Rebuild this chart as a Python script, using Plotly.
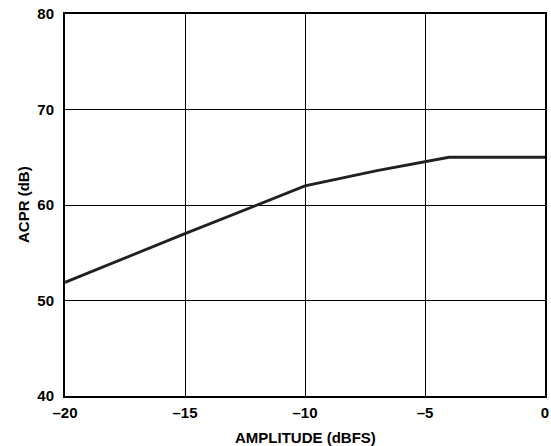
import plotly.graph_objects as go

# ACPR vs amplitude
amplitude = [-20, -15, -10, -7, -4, 0]
acpr = [51.9, 57, 62, 63.6, 65, 65]

x_ticks = [-20, -15, -10, -5, 0]
x_labels = ["–20", "–15", "–10", "–5", "0"]
y_ticks = [40, 50, 60, 70, 80]

fig = go.Figure()

fig.add_trace(go.Scatter(
    x=amplitude,
    y=acpr,
    mode='lines',
    line=dict(color='#231f20', width=2.8),
    showlegend=False
))

fig.update_layout(
    width=551, height=446,
    margin=dict(l=65, r=6, t=14, b=50),
    plot_bgcolor='white',
    paper_bgcolor='white',
    font=dict(family='Liberation Sans, Arial, sans-serif', size=15, color='black'),
)

tick_font = dict(size=15, family='Liberation Sans', weight='bold', color='black')

fig.update_xaxes(
    range=[-20, 0], tickvals=x_ticks, ticktext=x_labels,
    showgrid=True, gridcolor='black', gridwidth=1,
    showline=True, linecolor='black', linewidth=2, mirror=True,
    ticks='', tickfont=tick_font, ticklabelstandoff=2,
    automargin=False, zeroline=False,
)
fig.update_yaxes(
    range=[40, 80], tickvals=y_ticks,
    showgrid=True, gridcolor='black', gridwidth=1,
    showline=True, linecolor='black', linewidth=2, mirror=True,
    ticks='', tickfont=tick_font, ticklabelstandoff=6,
    automargin=False, zeroline=False,
)

# axis titles
fig.add_annotation(
    text='<b>AMPLITUDE (dBFS)</b>', xref='paper', yref='paper',
    x=0.5, y=0, yshift=-41, xanchor='center', yanchor='middle', showarrow=False,
    font=dict(size=15, family='Liberation Sans', color='black'),
)
fig.add_annotation(
    text='<b>ACPR (dB)</b>', xref='paper', yref='paper',
    x=0, xshift=-42, y=0.5, xanchor='center', yanchor='middle',
    textangle=-90, showarrow=False,
    font=dict(size=15, family='Liberation Sans', color='black'),
)

# page body has a default margin; drop it so the figure fills the window
fig.write_html("out.html", config={'displayModeBar': False},
               post_script="document.body.style.margin='0';")
